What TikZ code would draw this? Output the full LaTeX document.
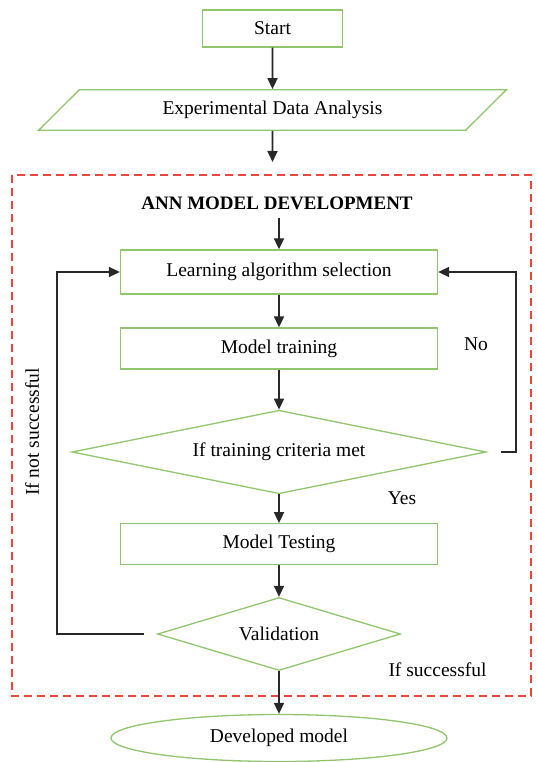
\documentclass[tikz,border=0pt]{standalone}
\usepackage{fontspec}
\setmainfont{Liberation Serif}
\usetikzlibrary{shapes.geometric,arrows.meta}
\definecolor{boxgreen}{RGB}{145,198,110}
\definecolor{dashred}{RGB}{235,70,60}
\definecolor{linegray}{RGB}{40,40,40}
\tikzset{
  every node/.style={font=\fontsize{19.5}{22}\selectfont, inner sep=0pt},
  gbox/.style={draw=boxgreen, line width=1.3pt, rectangle, fill=white},
  gpara/.style={draw=boxgreen, line width=1.3pt, trapezium, trapezium left angle=37.4, trapezium right angle=142.6, trapezium stretches=true},
  gdiam/.style={draw=boxgreen, line width=1.3pt, diamond},
  gell/.style={draw=boxgreen, line width=1.3pt, ellipse},
  flow/.style={draw=linegray, line width=1.7pt, -{Triangle[length=11pt,width=10pt]}},
  redframe/.style={draw=dashred, line width=1.4pt, dash pattern=on 8pt off 5pt},
  lbl/.style={font=\fontsize{19.5}{22}\selectfont}
}
\begin{document}
\begin{tikzpicture}[x=1pt,y=-1pt]
\useasboundingbox (0,0) rectangle (536,762);
\fill[white] (0,0) rectangle (536,762);

% dashed frame
\draw[redframe] (12,175) rectangle (531,696);

% nodes
\node[gbox, minimum width=140pt, minimum height=37pt] (start) at (272.5,28.5) {Start};
\node[gpara, minimum width=468pt, minimum height=40.5pt] (eda) at (272.5,110) {Experimental Data Analysis};
\coordinate (edaend) at (272.5,162);
\node[font=\bfseries\fontsize{19}{22}\selectfont] (title) at (277,203) {ANN MODEL DEVELOPMENT};
\coordinate (titlebot) at (279,218);
\node[gbox, minimum width=317pt, minimum height=44pt] (las) at (279,272) {Learning algorithm selection};
\node[gbox, minimum width=317pt, minimum height=41pt] (mt) at (279,348.5) {Model training};
\node[gdiam, shape aspect=4.96, minimum width=414pt, minimum height=83.5pt] (d1) at (279,452) {If training criteria met};
\node[gbox, minimum width=317pt, minimum height=40.5pt] (test) at (279,544) {Model Testing};
\node[gdiam, shape aspect=3.33, minimum width=243pt, minimum height=73pt] (d2) at (279,634) {Validation};
\node[gell, minimum width=336pt, minimum height=47pt] (dev) at (279,738) {Developed model};

% labels
\node[lbl] (no) at (476,344) {No};
\node[lbl] (yes) at (402,498) {Yes};
\node[lbl] (succ) at (437.5,670) {If successful};
\node[lbl, rotate=90] (notsucc) at (32,432) {If not successful};

% main flow
\draw[flow] (start.south) -- (eda.north);
\draw[flow] (eda.south) -- (edaend);
\draw[flow] (titlebot) -- (las.north);
\draw[flow] (las.south) -- (mt.north);
\draw[flow] (mt.south) -- (d1.north);
\draw[flow] (d1.south) -- (test.north);
\draw[flow] (test.south) -- (d2.north);
\draw[flow] (d2.south) -- (dev.north);

% No loop
\coordinate (nostart) at ([xshift=14pt]d1.east);
\coordinate (noright) at (516,452);
\draw[flow] (nostart) -- (noright) |- (las.east);

% If not successful loop
\coordinate (nsstart) at ([xshift=-13pt]d2.west);
\coordinate (nsleft) at (57,634);
\draw[flow] (nsstart) -- (nsleft) |- (las.west);
\end{tikzpicture}
\end{document}
